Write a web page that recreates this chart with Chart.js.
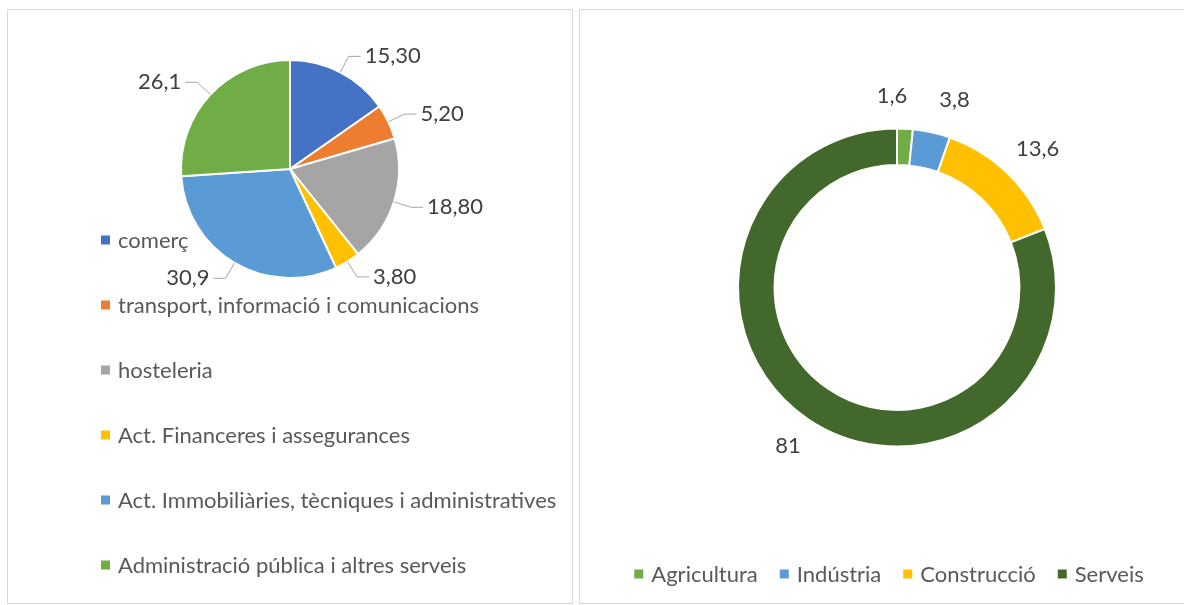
<!DOCTYPE html>
<html>
<head>
<meta charset="utf-8">
<script src="https://cdn.jsdelivr.net/npm/chart.js@4"></script>
<style>
body { margin:0; background:#fff; width:1184px; height:605px; overflow:hidden; position:relative; }
.panel { position:absolute; border:1px solid #d9d9d9; box-sizing:border-box; }
canvas { position:absolute; top:0; }
</style>
</head>
<body>
<div class="panel" style="left:7px;top:9px;width:566px;height:595px"></div>
<div class="panel" style="left:579px;top:9px;width:620px;height:595px"></div>
<canvas id="sectorChart" width="580" height="605" style="left:0"></canvas>
<canvas id="economyChart" width="604" height="605" style="left:580px"></canvas>
<script>
// sectors (left pie)
var sectorNames = ["comerç", "transport, informació i comunicacions", "hosteleria",
  "Act. Financeres i assegurances", "Act. Immobiliàries, tècniques i administratives",
  "Administració pública i altres serveis"];
var sectorValues = [15.3, 5.2, 18.8, 3.8, 30.9, 26.1];
var sectorText = ["15,30", "5,20", "18,80", "3,80", "30,9", "26,1"];
var sectorColors = ['#4472C4', '#ED7D31', '#A5A5A5', '#FFC000', '#5B9BD5', '#70AD47'];

// economy (right doughnut)
var economyNames = ["Agricultura", "Indústria", "Construcció", "Serveis"];
var economyValues = [1.6, 3.8, 13.6, 81];
var economyText = ["1,6", "3,8", "13,6", "81"];
var economyColors = ['#70AD47', '#5B9BD5', '#FFC000', '#43682B'];

var FONT = '22px Lato';

// value labels round the slices
var sliceLabels = {
  id: 'sliceLabels',
  afterDatasetsDraw: function(chart, args, opts) {
    var ctx = chart.ctx;
    var meta = chart.getDatasetMeta(0);
    ctx.save();
    ctx.font = FONT;
    ctx.fillStyle = '#404040';
    ctx.strokeStyle = '#A6A6A6';
    ctx.lineWidth = 1;
    ctx.textBaseline = 'middle';
    var boxes = [];
    meta.data.forEach(function(arc, i) {
      var p = arc.getProps(['x', 'y', 'startAngle', 'endAngle', 'outerRadius']);
      var mid = (p.startAngle + p.endAngle) / 2;
      var c = Math.cos(mid), s = Math.sin(mid);
      var txt = opts.text[i];
      if (opts.leader) {
        var ax = p.x + c * p.outerRadius, ay = p.y + s * p.outerRadius;
        var ex = p.x + c * (p.outerRadius + opts.leader), ey = p.y + s * (p.outerRadius + opts.leader);
        var side = c >= 0 ? 1 : -1;
        var hx = ex + side * 12;
        ctx.beginPath();
        ctx.moveTo(ax, ay); ctx.lineTo(ex, ey); ctx.lineTo(hx, ey);
        ctx.stroke();
        ctx.textAlign = side > 0 ? 'left' : 'right';
        ctx.fillText(txt, hx + side * 4, ey);
      } else {
        var w = ctx.measureText(txt).width;
        var d = p.outerRadius + opts.offset;
        boxes.push({ txt: txt, w: w, x: p.x + c * d + c * w / 2, y: p.y + s * d + s * 11 });
      }
    });
    // spread neighbours that would collide
    for (var k = 1; k < boxes.length; k++) {
      var a = boxes[k - 1], b = boxes[k];
      if (Math.abs(a.y - b.y) < 24) {
        var over = (a.x + a.w / 2 + opts.gap) - (b.x - b.w / 2);
        if (over > 0) { a.x -= over / 2; b.x += over / 2; }
      }
    }
    ctx.textAlign = 'center';
    boxes.forEach(function(b) { ctx.fillText(b.txt, b.x, b.y); });
    ctx.restore();
  }
};

// legend drawn by hand so it can sit where Excel put it
var handLegend = {
  id: 'handLegend',
  afterDraw: function(chart, args, opts) {
    var ctx = chart.ctx;
    var names = chart.data.labels;
    var cols = chart.data.datasets[0].backgroundColor;
    ctx.save();
    ctx.font = FONT;
    ctx.textBaseline = 'middle';
    ctx.textAlign = 'left';
    if (opts.column) {
      for (var i = 0; i < names.length; i++) {
        var y = opts.y + i * opts.step;
        ctx.fillStyle = cols[i];
        ctx.fillRect(opts.x, y - 4.5, 9, 9);
        ctx.fillStyle = '#595959';
        ctx.fillText(names[i], opts.x + 17, y + 1);
      }
    } else {
      var widths = names.map(function(n) { return ctx.measureText(n).width; });
      var total = 0;
      widths.forEach(function(w) { total += 17 + w; });
      total += opts.gap * (names.length - 1);
      var x = opts.cx - total / 2;
      for (var j = 0; j < names.length; j++) {
        ctx.fillStyle = cols[j];
        ctx.fillRect(x, opts.y - 4.5, 9, 9);
        ctx.fillStyle = '#595959';
        ctx.fillText(names[j], x + 17, opts.y + 1);
        x += 17 + widths[j] + opts.gap;
      }
    }
    ctx.restore();
  }
};

new Chart(document.getElementById('sectorChart'), {
  type: 'pie',
  data: {
    labels: sectorNames,
    datasets: [{
      data: sectorValues,
      backgroundColor: sectorColors,
      borderColor: '#fff',
      borderWidth: 2
    }]
  },
  options: {
    responsive: false,
    animation: false,
    layout: { padding: { left: 180, right: 180, top: 59, bottom: 326 } },
    plugins: {
      legend: { display: false },
      tooltip: { enabled: false },
      sliceLabels: { text: sectorText, leader: 18 },
      handLegend: { column: true, x: 101, y: 240, step: 65 }
    }
  },
  plugins: [sliceLabels, handLegend]
});

new Chart(document.getElementById('economyChart'), {
  type: 'doughnut',
  data: {
    labels: economyNames,
    datasets: [{
      data: economyValues,
      backgroundColor: economyColors,
      borderColor: '#fff',
      borderWidth: 2
    }]
  },
  options: {
    responsive: false,
    animation: false,
    cutout: '77%',
    layout: { padding: { left: 157, right: 127, top: 127, bottom: 157 } },
    plugins: {
      legend: { display: false },
      tooltip: { enabled: false },
      sliceLabels: { text: economyText, offset: 22, gap: 32 },
      handLegend: { column: false, cx: 309, y: 574, gap: 22 }
    }
  },
  plugins: [sliceLabels, handLegend]
});
</script>
</body>
</html>
